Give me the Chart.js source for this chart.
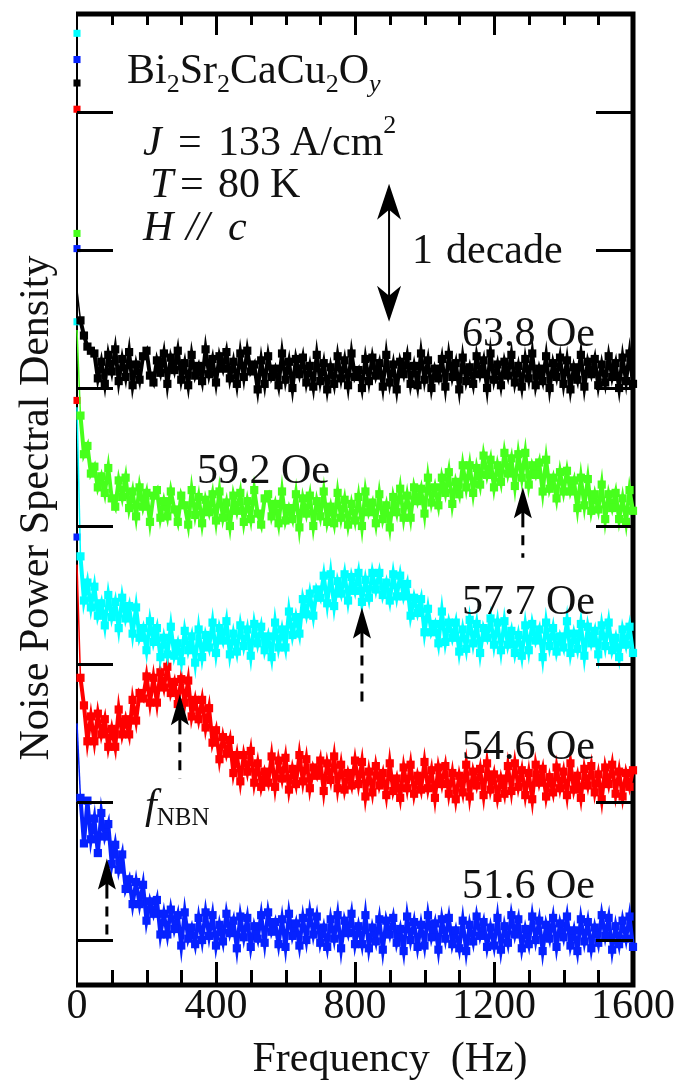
<!DOCTYPE html>
<html>
<head>
<meta charset="utf-8">
<title>Noise power spectra, Bi2Sr2CaCu2Oy</title>
<script src="https://cdn.jsdelivr.net/npm/chart.js@4.4.1/dist/chart.umd.min.js"></script>
<style>
  html, body { margin: 0; padding: 0; background: #fff; }
  canvas { display: block; }
</style>
</head>
<body>
<canvas id="psd" width="678" height="1083" style="width:678px;height:1083px"></canvas>
<script>
// Frequency grid (Hz) shared by all spectra
const FREQ_HZ = [
  0,10,20,30,40,50,60,70,80,90,100,110,120,130,140,150,160,170,180,190,
  200,210,220,230,240,250,260,270,280,290,300,310,320,330,340,350,360,370,380,390,
  400,410,420,430,440,450,460,470,480,490,500,510,520,530,540,550,560,570,580,590,
  600,610,620,630,640,650,660,670,680,690,700,710,720,730,740,750,760,770,780,790,
  800,810,820,830,840,850,860,870,880,890,900,910,920,930,940,950,960,970,980,990,
  1000,1010,1020,1030,1040,1050,1060,1070,1080,1090,1100,1110,1120,1130,1140,1150,1160,1170,1180,1190,
  1200,1210,1220,1230,1240,1250,1260,1270,1280,1290,1300,1310,1320,1330,1340,1350,1360,1370,1380,1390,
  1400,1410,1420,1430,1440,1450,1460,1470,1480,1490,1500,1510,1520,1530,1540,1550,1560,1570,1580,1590,
  1600
];

// log10 of noise PSD (decades, curves offset vertically), one value per FREQ_HZ entry
const PSD_63_8 = [
  4.71,4.49,4.38,4.30,4.27,
  4.25,4.07,4.19,4.03,4.24,4.12,4.28,4.05,4.21,4.08,4.26,4.02,4.17,4.06,4.23,4.27,4.09,4.04,4.20,4.11,
  4.25,4.03,4.22,4.13,4.27,4.06,4.18,4.02,4.24,4.09,4.16,4.05,4.28,4.10,4.21,4.04,4.23,4.14,4.26,4.07,
  4.19,4.03,4.25,4.08,4.27,4.12,4.17,3.99,4.20,4.03,4.23,4.08,4.14,4.02,4.25,4.06,4.19,4.00,4.21,4.10,
  4.22,4.04,4.16,4.01,4.24,4.05,4.18,3.99,4.15,4.03,4.23,4.07,4.20,4.02,4.25,4.08,4.13,4.00,4.21,4.05,
  4.22,4.09,4.18,4.01,4.24,4.04,4.17,3.99,4.19,4.10,4.23,4.03,4.16,4.02,4.25,4.06,4.20,4.00,4.14,4.07,
  4.21,4.01,4.24,4.08,4.18,3.99,4.22,4.05,4.15,4.03,4.23,4.10,4.20,4.00,4.25,4.06,4.17,4.02,4.19,4.09,
  4.24,4.04,4.16,4.01,4.21,4.07,4.25,4.02,4.14,4.05,4.23,4.00,4.18,4.08,4.22,4.03,4.20,3.99,4.15,4.06,
  4.24,4.01,4.19,4.10,4.21,4.02,4.17,4.04,
  4.23,4.08,4.18,4.00,4.22,4.05,4.25,4.03
];
const PSD_59_2 = [
  4.42,
  3.80,3.52,3.58,3.38,3.43,3.28,3.36,3.24,3.42,3.20,3.14,3.33,3.21,3.35,3.13,3.25,3.07,3.28,3.14,3.24,
  3.03,3.22,3.26,3.06,3.18,3.07,3.25,3.12,3.03,3.22,3.15,3.01,3.26,3.08,3.21,3.02,3.19,3.10,3.23,3.04,
  3.25,3.06,3.17,3.00,3.22,3.11,3.24,3.03,3.18,3.05,3.26,3.09,3.01,3.20,3.23,3.07,3.16,3.02,3.25,3.04,
  3.13,3.05,3.23,2.99,3.20,3.09,3.22,3.00,3.18,3.07,3.25,3.03,3.14,3.02,3.24,3.06,3.19,3.01,3.16,3.04,
  3.21,3.00,3.25,3.10,3.17,3.02,3.23,3.05,3.15,2.99,3.21,3.10,3.27,3.06,3.22,3.06,3.28,3.18,3.27,3.09,
  3.35,3.17,3.28,3.15,3.35,3.24,3.39,3.16,3.32,3.23,3.44,3.28,3.44,3.24,3.42,3.30,3.51,3.37,3.48,3.28,
  3.44,3.32,3.53,3.38,3.49,3.29,3.52,3.35,3.53,3.30,3.44,3.37,3.46,3.25,3.48,3.27,3.35,3.20,3.39,3.25,
  3.40,3.25,3.33,3.13,3.35,3.15,3.34,3.11,3.23,3.12,3.30,3.05,3.23,3.13,3.24,3.05,3.20,3.03,3.26,3.11
];
const PSD_57_7 = [
  3.86,
  2.78,2.46,2.59,2.41,2.56,2.35,2.44,2.28,2.50,2.34,2.45,2.26,2.48,2.33,2.42,2.22,2.41,2.19,2.26,2.10,
  2.31,2.16,2.26,2.05,2.19,2.07,2.27,2.06,2.15,2.02,2.24,2.10,2.20,2.01,2.25,2.05,2.21,2.12,2.30,2.08,
  2.26,2.17,2.31,2.07,2.22,2.09,2.28,2.13,2.25,2.06,2.29,2.15,2.27,2.10,2.20,2.05,2.30,2.12,2.25,2.12,
  2.38,2.21,2.34,2.22,2.47,2.36,2.51,2.35,2.54,2.48,2.64,2.44,2.65,2.42,2.60,2.51,2.65,2.46,2.63,2.53,
  2.66,2.45,2.61,2.48,2.66,2.54,2.66,2.50,2.59,2.46,2.65,2.49,2.64,2.49,2.58,2.35,2.48,2.37,2.47,2.23,
  2.40,2.23,2.29,2.15,2.38,2.16,2.30,2.19,2.30,2.09,2.25,2.11,2.32,2.15,2.29,2.08,2.26,2.19,2.33,2.14,
  2.30,2.10,2.31,2.14,2.24,2.08,2.21,2.06,2.28,2.10,2.29,2.17,2.25,2.05,2.30,2.13,2.26,2.09,2.20,2.12,
  2.31,2.08,2.22,2.11,2.29,2.06,2.27,2.15,2.24,2.07,2.28,2.13,2.30,2.10,2.19,2.05,2.25,2.14,2.27,2.08
];
const PSD_54_6 = [
  2.72,
  1.90,1.70,1.44,1.62,1.44,1.64,1.49,1.60,1.40,1.53,1.40,1.67,1.49,1.60,1.49,1.74,1.59,1.79,1.75,1.91,
  1.72,1.90,1.72,1.94,1.83,1.98,1.79,1.87,1.71,1.89,1.72,1.88,1.62,1.74,1.60,1.74,1.54,1.68,1.43,1.52,
  1.31,1.47,1.35,1.45,1.21,1.34,1.15,1.34,1.22,1.37,1.14,1.28,1.11,1.22,1.14,1.33,1.11,1.30,1.17,1.32,
  1.09,1.24,1.13,1.34,1.15,1.31,1.10,1.25,1.19,1.30,1.08,1.28,1.16,1.33,1.10,1.27,1.09,1.21,1.12,1.30,
  1.13,1.29,1.04,1.22,1.07,1.26,1.12,1.21,1.05,1.28,1.08,1.17,1.03,1.25,1.10,1.27,1.06,1.19,1.09,1.29,
  1.10,1.23,1.03,1.25,1.13,1.26,1.06,1.21,1.02,1.19,1.07,1.27,1.04,1.22,1.12,1.24,1.05,1.28,1.09,1.20,
  1.03,1.17,1.06,1.26,1.08,1.28,1.11,1.23,1.05,1.21,1.02,1.27,1.14,1.24,1.04,1.18,1.07,1.25,1.10,1.22,
  1.05,1.28,1.09,1.19,1.03,1.24,1.12,1.26,1.07,1.20,1.02,1.25,1.13,1.27,1.06,1.22,1.04,1.21,1.11,1.23
];
const PSD_51_6 = [
  1.57,
  1.03,0.70,1.01,0.73,0.88,0.63,0.92,0.75,0.84,0.55,0.69,0.51,0.62,0.37,0.44,0.26,0.42,0.26,0.40,0.14,
  0.28,0.19,0.29,0.04,0.19,0.04,0.22,0.08,0.18,-0.04,0.20,0.01,0.09,-0.03,0.16,0.00,0.20,0.03,0.18,-0.04,
  0.11,-0.01,0.19,0.05,0.14,-0.06,0.17,0.02,0.16,-0.05,0.10,0.01,0.18,-0.02,0.20,0.06,0.13,-0.03,0.15,-0.05,
  0.19,0.03,0.12,-0.04,0.16,0.00,0.20,0.04,0.17,-0.02,0.09,-0.05,0.15,0.01,0.18,-0.06,0.14,0.05,0.19,-0.03,
  0.10,-0.03,0.18,-0.06,0.09,-0.01,0.15,-0.07,0.14,0.04,0.16,-0.02,0.08,-0.08,0.17,0.00,0.13,-0.05,0.11,-0.04,
  0.18,0.02,0.12,-0.07,0.15,0.01,0.16,-0.03,0.07,-0.06,0.14,-0.08,0.11,-0.01,0.17,0.03,0.13,-0.05,0.09,-0.04,
  0.16,-0.07,0.10,-0.02,0.18,0.04,0.15,-0.06,0.08,-0.03,0.17,0.00,0.14,-0.08,0.11,0.01,0.16,-0.05,0.12,0.02,
  0.17,-0.04,0.07,-0.08,0.15,-0.01,0.13,-0.06,0.09,-0.02,0.18,0.03,0.16,-0.07,0.10,-0.03,0.14,0.01,0.17,-0.05
];

// Lowest-frequency bins (decades), plotted at f = 0 on the frequency axis
const START_63_8 = [6.21];
const START_59_2 = [5.12];
const START_57_7 = [6.57, 4.48];
const START_54_6 = [6.02, 3.91];
const START_51_6 = [6.38, 5.01, 2.92];

// Field labels and curve colours
const FIELD_LABELS = ['63.8 Oe', '59.2 Oe', '57.7 Oe', '54.6 Oe', '51.6 Oe'];
const SERIES = [PSD_63_8, PSD_59_2, PSD_57_7, PSD_54_6, PSD_51_6];
const STARTS = [START_63_8, START_59_2, START_57_7, START_54_6, START_51_6];
const COLORS = ['#000000', '#47ff1c', '#00ffff', '#ff0000', '#0622ff'];

// Narrow-band-noise peak frequencies (Hz) marked by dashed arrows: 51.6, 54.6, 57.7, 59.2 Oe
const PEAK_FREQ_HZ = [86, 296, 820, 1283];
const PEAK_TIP = [0.59, 1.78, 2.41, 3.28];
const PEAK_TAIL = [0.00, 1.17, 1.67, 2.77];

// One-decade scale bar
const DECADE_BAR_HZ = 898;
const DECADE_BAR = [4.48, 5.48];

// Axis ticks
const X_LABEL_STEP = 400;
const X_MINOR_STEP = 100;
const DECADE_TICKS = [0, 1, 2, 3, 4, 5, 6];

const SERIF = '"Liberation Serif", "Times New Roman", serif';
const font = (size, italic) => (italic ? 'italic ' : '') + size + 'px ' + SERIF;
const INK = '#111';

const datasets = [];
SERIES.forEach((vals, k) => {
  datasets.push({
    label: FIELD_LABELS[k],
    data: FREQ_HZ.map((f, i) => ({ x: f, y: vals[i] })),
    borderColor: COLORS[k],
    backgroundColor: COLORS[k],
    borderWidth: 4,
    // the steep first step from the f = 0 bin is a thin line along the axis
    segment: { borderWidth: c => (c.p0DataIndex === 0 ? 1.5 : undefined) },
    pointStyle: 'rect',
    pointRadius: c => (c.dataIndex === 0 ? 0 : 5.8),
    pointBorderWidth: 0,
    pointBackgroundColor: COLORS[k],
    tension: 0,
    clip: false,
    order: k
  });
});
STARTS.forEach((vals, k) => {
  datasets.push({
    label: FIELD_LABELS[k] + ' (lowest bins)',
    data: vals.map(v => ({ x: 0, y: v })),
    showLine: false,
    pointStyle: 'rect',
    pointRadius: 5,
    pointBorderWidth: 0,
    pointBackgroundColor: COLORS[k],
    borderColor: COLORS[k],
    clip: false,
    order: 10 + k
  });
});

function arrowHead(ctx, x, tipY, dir, half, len, notch) {
  ctx.beginPath();
  ctx.moveTo(x, tipY);
  ctx.lineTo(x + half, tipY + dir * len);
  ctx.lineTo(x, tipY + dir * notch);
  ctx.lineTo(x - half, tipY + dir * len);
  ctx.closePath();
  ctx.fill();
}

function drawParts(ctx, x, y, parts) {
  // parts: [text, size, italic, dy]
  for (const [t, size, italic, dy] of parts) {
    ctx.font = font(size, italic);
    ctx.fillText(t, x, y + (dy || 0));
    x += ctx.measureText(t).width;
  }
  return x;
}

const figureDecor = {
  id: 'figureDecor',
  beforeDatasetsDraw(chart) {
    const { ctx, chartArea: a, scales: { x } } = chart;
    ctx.save();
    ctx.strokeStyle = '#000';
    ctx.lineCap = 'butt';
    // left axis (thin)
    ctx.lineWidth = 2;
    ctx.beginPath(); ctx.moveTo(a.left, a.top); ctx.lineTo(a.left, a.bottom); ctx.stroke();
    // top, right and bottom frame (heavy)
    ctx.lineWidth = 5;
    ctx.beginPath();
    ctx.moveTo(a.left - 1, a.top); ctx.lineTo(a.right + 2.5, a.top);
    ctx.moveTo(a.right, a.top - 2.5); ctx.lineTo(a.right, a.bottom + 2.5);
    ctx.moveTo(a.left - 1, a.bottom); ctx.lineTo(a.right + 2.5, a.bottom);
    ctx.stroke();
    // frequency ticks, pointing inward at top and bottom
    ctx.lineWidth = 3;
    ctx.beginPath();
    for (let f = X_MINOR_STEP; f < 1600; f += X_MINOR_STEP) {
      const px = Math.round(x.getPixelForValue(f)) + 0.5;
      const major = f % X_LABEL_STEP === 0;
      ctx.moveTo(px, a.bottom - 2); ctx.lineTo(px, a.bottom - (major ? 23 : 15));
      ctx.moveTo(px, a.top + 2); ctx.lineTo(px, a.top + (major ? 21 : 11));
    }
    ctx.stroke();
    ctx.restore();
  },
  afterDatasetsDraw(chart) {
    const { ctx, chartArea: a, scales: { x, y } } = chart;
    ctx.save();
    // decade ticks on both vertical edges
    ctx.strokeStyle = '#000';
    ctx.lineWidth = 3;
    ctx.beginPath();
    for (const v of DECADE_TICKS) {
      const py = Math.round(y.getPixelForValue(v)) + 0.5;
      ctx.moveTo(a.left, py); ctx.lineTo(a.left + 36, py);
      ctx.moveTo(a.right, py); ctx.lineTo(a.right - 37, py);
    }
    ctx.stroke();

    // dashed arrows at the narrow-band-noise peaks
    ctx.fillStyle = '#000';
    PEAK_FREQ_HZ.forEach((f, i) => {
      const px = x.getPixelForValue(f);
      const tip = y.getPixelForValue(PEAK_TIP[i]);
      const tail = y.getPixelForValue(PEAK_TAIL[i]);
      arrowHead(ctx, px, tip, 1, 9, 31, 25);
      ctx.lineWidth = 3;
      ctx.beginPath(); ctx.moveTo(px, tip + 20); ctx.lineTo(px, tip + 40); ctx.stroke();
      ctx.setLineDash([10, 8]);
      ctx.beginPath(); ctx.moveTo(px, tip + 48); ctx.lineTo(px, tail); ctx.stroke();
      ctx.setLineDash([]);
    });

    // one-decade scale bar
    const bx = x.getPixelForValue(DECADE_BAR_HZ);
    const b0 = y.getPixelForValue(DECADE_BAR[0]);
    const b1 = y.getPixelForValue(DECADE_BAR[1]);
    ctx.lineWidth = 2;
    ctx.beginPath(); ctx.moveTo(bx, b1 + 6); ctx.lineTo(bx, b0 - 6); ctx.stroke();
    arrowHead(ctx, bx, b1, 1, 12, 36, 26);
    arrowHead(ctx, bx, b0, -1, 12, 36, 26);

    // text
    ctx.fillStyle = INK;
    ctx.textBaseline = 'alphabetic';
    ctx.textAlign = 'left';
    drawParts(ctx, 127, 83, [
      ['Bi', 42], ['2', 26, false, 9], ['Sr', 42], ['2', 26, false, 9],
      ['CaCu', 42], ['2', 26, false, 9], ['O', 42], ['y', 26, true, 9]
    ]);
    drawParts(ctx, 143, 155, [['J', 42, true]]);
    drawParts(ctx, 178, 155, [['=', 42]]);
    drawParts(ctx, 218, 155, [['133', 42]]);
    drawParts(ctx, 290, 155, [['A/cm', 42], ['2', 26, false, -22]]);
    drawParts(ctx, 150, 197, [['T', 42, true]]);
    drawParts(ctx, 180, 197, [['=', 42]]);
    drawParts(ctx, 218, 197, [['80', 42]]);
    drawParts(ctx, 270, 197, [['K', 42]]);
    drawParts(ctx, 143, 240, [['H', 42, true]]);
    drawParts(ctx, 186, 240, [['//', 42, true]]);
    drawParts(ctx, 228, 240, [['c', 42, true]]);
    drawParts(ctx, 412, 263, [['1', 42]]);
    drawParts(ctx, 446, 263, [['decade', 42]]);

    ctx.font = font(42);
    ctx.fillText(FIELD_LABELS[0], 462, 346);
    ctx.fillText(FIELD_LABELS[1], 197, 483);
    ctx.fillText(FIELD_LABELS[2], 462, 614);
    ctx.fillText(FIELD_LABELS[3], 462, 759);
    ctx.fillText(FIELD_LABELS[4], 462, 898);

    drawParts(ctx, 145, 818, [['f', 42, true], ['NBN', 25, false, 7]]);

    // axis titles
    ctx.font = font(42);
    const xt = 'Frequency  (Hz)';
    ctx.fillText(xt, 390 - ctx.measureText(xt).width / 2, 1071);
    ctx.save();
    ctx.translate(48, 508);
    ctx.rotate(-Math.PI / 2);
    ctx.textAlign = 'center';
    ctx.fillText('Noise Power Spectral Density', 0, 0);
    ctx.restore();

    ctx.restore();
  }
};

new Chart(document.getElementById('psd'), {
  type: 'line',
  data: { datasets },
  options: {
    responsive: false,
    devicePixelRatio: 1,
    animation: false,
    events: [],
    layout: { padding: { left: 0, right: 45, top: 14, bottom: 0 } },
    plugins: { legend: { display: false }, tooltip: { enabled: false } },
    scales: {
      x: {
        type: 'linear',
        min: 0,
        max: 1600,
        grid: { display: false, drawTicks: false },
        border: { display: false },
        ticks: {
          stepSize: X_LABEL_STEP,
          autoSkip: false,
          maxRotation: 0,
          padding: -3,
          color: INK,
          font: { family: SERIF, size: 42 },
          callback: v => String(v)
        },
        afterFit: s => { s.height = 98; }
      },
      y: {
        type: 'linear',
        min: -0.326,
        max: 6.71,
        grid: { display: false, drawTicks: false },
        border: { display: false },
        ticks: { display: false, stepSize: 1 },
        afterFit: s => { s.width = 77; }
      }
    }
  },
  plugins: [figureDecor]
});
</script>
</body>
</html>
